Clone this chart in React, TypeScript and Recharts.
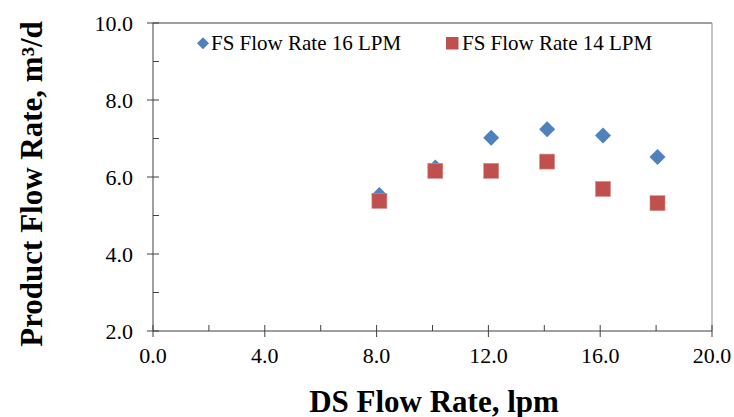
import React from "react";
import { ScatterChart, Scatter, XAxis, YAxis, ReferenceLine } from "recharts";

const dsFlow16 = [8.1, 10.1, 12.1, 14.1, 16.1, 18.05];
const product16 = [5.53, 6.25, 7.02, 7.24, 7.08, 6.52];
const dsFlow14 = [8.1, 10.1, 12.1, 14.1, 16.1, 18.05];
const product14 = [5.38, 6.16, 6.16, 6.4, 5.69, 5.32];
const xTicks = [0, 2, 4, 6, 8, 10, 12, 14, 16, 18, 20];
const yTicks = [2, 3, 4, 5, 6, 7, 8, 9, 10];
const xMajor = [0, 4, 8, 12, 16, 20];
const yMajor = [2, 4, 6, 8, 10];
const seriesNames = ["FS Flow Rate 16 LPM", "FS Flow Rate 14 LPM"];

const BLUE = "#4F81BD";
const RED = "#C0504D";
const AXIS = "#404040";
const FONT = "'Liberation Serif', 'Times New Roman', serif";

const data16 = dsFlow16.map((x, i) => ({ x, y: product16[i] }));
const data14 = dsFlow14.map((x, i) => ({ x, y: product14[i] }));

const Diamond = (props: any) => {
  const { cx, cy } = props;
  const r = 8;
  return (
    <path
      d={`M${cx},${cy - r}L${cx + r},${cy}L${cx},${cy + r}L${cx - r},${cy}Z`}
      fill={BLUE}
    />
  );
};

const Square = (props: any) => {
  const { cx, cy } = props;
  const s = 7.5;
  return (
    <rect x={cx - s} y={cy - s} width={2 * s} height={2 * s} fill={RED} stroke="#d98a88" strokeWidth={0.6} />
  );
};

const YTick = (props: any) => {
  const { x, y, payload } = props;
  const v = payload.value;
  const major = yMajor.includes(v);
  return (
    <g>
      <line x1={major ? x - 6 : x} x2={x + 6} y1={y} y2={y} stroke={AXIS} strokeWidth={1} />
      {major && (
        <text x={x - 20} y={y + 7.5} textAnchor="end" fontFamily={FONT} fontSize={22} fill="#000">
          {v.toFixed(1)}
        </text>
      )}
    </g>
  );
};

const XTick = (props: any) => {
  const { x, y, payload } = props;
  const v = payload.value;
  const major = xMajor.includes(v);
  return (
    <g>
      <line x1={x} x2={x} y1={y - 6} y2={major ? y + 6 : y} stroke={AXIS} strokeWidth={1} />
      {major && (
        <text x={x} y={y + 32} textAnchor="middle" fontFamily={FONT} fontSize={22} fill="#000">
          {v.toFixed(1)}
        </text>
      )}
    </g>
  );
};

export default function App() {
  return (
    <div style={{ position: "absolute", left: 0, top: 0, width: 734, height: 417, background: "#fff" }}>
      <ScatterChart width={734} height={417} margin={{ top: 23, right: 22, left: 0, bottom: 0 }}>
        <XAxis
          type="number"
          dataKey="x"
          domain={[0, 20]}
          ticks={xTicks}
          interval={0}
          allowDataOverflow
          height={86}
          tickSize={0}
          tickMargin={0}
          tickLine={false}
          axisLine={{ stroke: AXIS, strokeWidth: 1 }}
          tick={<XTick />}
          label={{
            content: () => (
              <text x={434} y={411.5} textAnchor="middle" fontFamily={FONT} fontSize={31} fontWeight="bold" fill="#000">
                DS Flow Rate, lpm
              </text>
            ),
          }}
        />
        <YAxis
          type="number"
          dataKey="y"
          domain={[2, 10]}
          ticks={yTicks}
          interval={0}
          allowDataOverflow
          width={153}
          tickSize={0}
          tickMargin={0}
          tickLine={false}
          axisLine={{ stroke: AXIS, strokeWidth: 1 }}
          tick={<YTick />}
          label={{
            content: () => (
              <text
                x={42}
                y={184}
                transform="rotate(-90, 42, 184)"
                textAnchor="middle"
                fontFamily={FONT}
                fontSize={31}
                fontWeight="bold"
                fill="#000"
              >
                Product Flow Rate, m³/d
              </text>
            ),
          }}
        />
        <ReferenceLine y={10} stroke={AXIS} strokeWidth={1} />
        <ReferenceLine x={20} stroke="#8a8a8a" strokeWidth={1} />
        <Scatter name={seriesNames[0]} data={data16} shape={<Diamond />} isAnimationActive={false} />
        <Scatter name={seriesNames[1]} data={data14} shape={<Square />} isAnimationActive={false} />
      </ScatterChart>
      <svg width={734} height={70} style={{ position: "absolute", left: 0, top: 0, pointerEvents: "none" }}>
        <path d="M203,37.3L209,43.3L203,49.3L197,43.3Z" fill={BLUE} />
        <text x={211} y={50} fontFamily={FONT} fontSize={21} fill="#000">
          {seriesNames[0]}
        </text>
        <rect x={446} y={37} width={12.5} height={12.5} fill={RED} />
        <text x={462} y={50} fontFamily={FONT} fontSize={21} fill="#000">
          {seriesNames[1]}
        </text>
      </svg>
    </div>
  );
}
